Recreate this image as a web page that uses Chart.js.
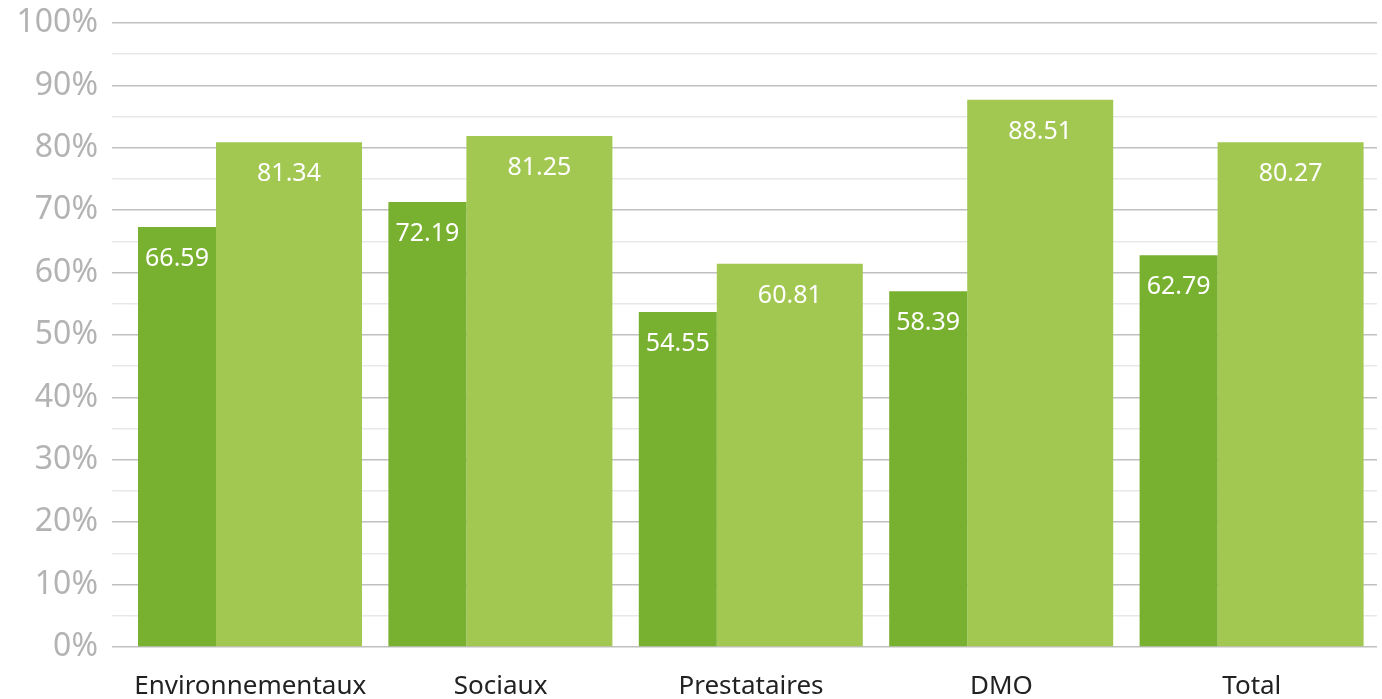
<!DOCTYPE html>
<html><head><meta charset="utf-8">
<script src="https://cdn.jsdelivr.net/npm/chart.js@4"></script>
<style>html,body{margin:0;padding:0;background:#fff;overflow:hidden}#wrap{width:1382px;height:699px;position:relative}</style>
</head><body><div id="wrap"><canvas id="c"></canvas></div>
<script>
const categories = ['Environnementaux', 'Sociaux', 'Prestataires', 'DMO', 'Total'];
// bar heights as drawn in the picture (percent)
const seriesDark = [67.3, 71.3, 53.7, 57.0, 62.8];
const seriesLight = [80.9, 81.9, 61.4, 87.7, 80.9];
// value labels printed on the bars
const labelsDark = ['66.59', '72.19', '54.55', '58.39', '62.79'];
const labelsLight = ['81.34', '81.25', '60.81', '88.51', '80.27'];
const yTickLabels = ['0%', '10%', '20%', '30%', '40%', '50%', '60%', '70%', '80%', '90%', '100%'];

const FONT = '"Noto Sans", sans-serif';

const valueLabels = {
  id: 'valueLabels',
  afterDatasetsDraw(chart) {
    const sets = [labelsDark, labelsLight];
    const ctx = chart.ctx;
    ctx.save();
    ctx.font = '25px ' + FONT;
    ctx.fillStyle = '#ffffff';
    ctx.textAlign = 'center';
    ctx.textBaseline = 'middle';
    chart.data.datasets.forEach((ds, i) => {
      chart.getDatasetMeta(i).data.forEach((bar, j) => {
        ctx.fillText(sets[i][j], bar.x, bar.y + 32);
      });
    });
    ctx.restore();
  }
};

new Chart(document.getElementById('c'), {
  type: 'bar',
  data: {
    labels: categories,
    datasets: [
      { data: seriesDark, backgroundColor: '#78b02f', borderWidth: 0,
        categoryPercentage: 1.1693, barPercentage: 0.5328 },
      { data: seriesLight, backgroundColor: '#a2c852', borderWidth: 0,
        categoryPercentage: 0.6198, barPercentage: 1.8814 }
    ]
  },
  options: {
    responsive: true,
    maintainAspectRatio: false,
    animation: false,
    layout: { padding: { top: 23, right: 5, bottom: 0, left: 0 } },
    plugins: { legend: { display: false }, tooltip: { enabled: false } },
    scales: {
      x: {
        grid: { display: false, drawTicks: false },
        border: { display: false },
        ticks: { color: '#222222', font: { family: FONT, size: 26 }, padding: 24, maxRotation: 0 },
        afterFit(scale) { scale.height = 52; }
      },
      y: {
        min: 0, max: 100,
        border: { display: false },
        grid: {
          tickLength: 13,
          color: c => (c.tick && c.tick.value % 10 === 0) ? '#c0c0c0' : '#e8e8e8',
          lineWidth: 1.5
        },
        ticks: {
          stepSize: 5,
          autoSkip: false,
          padding: 14,
          color: '#b3b3b3',
          font: { family: FONT, size: 32 },
          callback: v => (v % 10 === 0) ? yTickLabels[v / 10] : ''
        },
        afterFit(scale) { scale.width = 125; scale.paddingTop = 0; scale.paddingBottom = 0; }
      }
    }
  },
  plugins: [valueLabels]
});
</script>
</body></html>
